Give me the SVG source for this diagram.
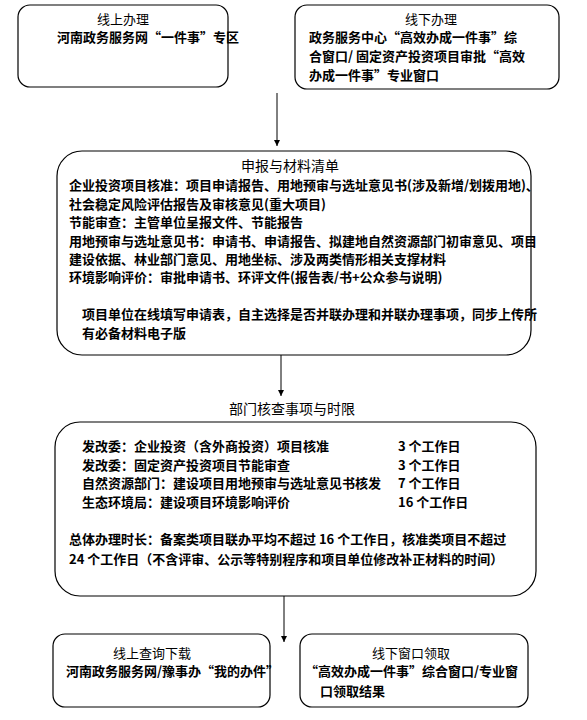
<svg xmlns="http://www.w3.org/2000/svg" width="587" height="720" viewBox="0 0 587 720">
<style>
.box{fill:#fff;stroke:#000;stroke-width:1.2}
.h{font-family:"Noto Sans CJK SC","Liberation Sans",sans-serif;font-size:13px;fill:#000}
.h2{font-family:"Noto Sans CJK SC","Liberation Sans",sans-serif;font-size:14px;fill:#000}
.b{font-family:"Noto Sans CJK SC","Liberation Sans",sans-serif;font-size:13px;font-weight:bold;fill:#000}
.c{stroke:#000;stroke-width:1;fill:none}
</style>
<defs>
<marker id="ar" markerWidth="8" markerHeight="8" refX="6" refY="4" orient="auto" markerUnits="userSpaceOnUse">
<path d="M0,1 L6,4 L0,7 Z" fill="#000"/>
</marker>
</defs>
<rect width="587" height="720" fill="#fff"/>
<g id="connectors">
<line class="c" x1="277" y1="93" x2="277" y2="146" marker-end="url(#ar)"/>
<line class="c" x1="281" y1="355" x2="281" y2="396" marker-end="url(#ar)"/>
<line class="c" x1="284" y1="592" x2="284" y2="642" marker-end="url(#ar)"/>
</g>
<g id="online">
<rect class="box" x="18" y="5" width="210" height="82" rx="12"/>
<text class="h" x="123" y="24" text-anchor="middle">线上办理</text>
<text class="b" x="57" y="42">河南政务服务网“一件事”专区</text>
</g>
<g id="offline">
<rect class="box" x="295" y="5" width="264" height="84" rx="12"/>
<text class="h" x="431" y="24" text-anchor="middle">线下办理</text>
<text class="b" x="309" y="42">政务服务中心“高效办成一件事”综</text>
<text class="b" x="309" y="61">合窗口/ 固定资产投资项目审批“高效</text>
<text class="b" x="309" y="80">办成一件事”专业窗口</text>
</g>
<g id="materials">
<rect class="box" x="57" y="151" width="474" height="204" rx="25"/>
<text class="h2" x="290" y="171" text-anchor="middle">申报与材料清单</text>
<text class="b" x="69" y="190">企业投资项目核准：项目申请报告、用地预审与选址意见书(涉及新增/划拨用地)、</text>
<text class="b" x="69" y="209">社会稳定风险评估报告及审核意见(重大项目)</text>
<text class="b" x="69" y="227">节能审查：主管单位呈报文件、节能报告</text>
<text class="b" x="69" y="246">用地预审与选址意见书：申请书、申请报告、拟建地自然资源部门初审意见、项目</text>
<text class="b" x="69" y="264">建设依据、林业部门意见、用地坐标、涉及两类情形相关支撑材料</text>
<text class="b" x="69" y="282">环境影响评价：审批申请书、环评文件(报告表/书+公众参与说明)</text>
<text class="b" x="82" y="319">项目单位在线填写申请表，自主选择是否并联办理和并联办理事项，同步上传所</text>
<text class="b" x="82" y="338">有必备材料电子版</text>
</g>
<g id="review-title">
<text class="h2" x="292" y="414" text-anchor="middle">部门核查事项与时限</text>
</g>
<g id="review">
<rect class="box" x="55" y="422" width="481" height="174" rx="25"/>
<text class="b" x="82" y="451">发改委：企业投资（含外商投资）项目核准</text>
<text class="b" x="398" y="451">3 个工作日</text>
<text class="b" x="82" y="470">发改委：固定资产投资项目节能审查</text>
<text class="b" x="398" y="470">3 个工作日</text>
<text class="b" x="82" y="488">自然资源部门：建设项目用地预审与选址意见书核发</text>
<text class="b" x="398" y="488">7 个工作日</text>
<text class="b" x="82" y="507">生态环境局：建设项目环境影响评价</text>
<text class="b" x="398" y="507">16 个工作日</text>
<text class="b" x="69" y="544">总体办理时长：备案类项目联办平均不超过 16 个工作日，核准类项目不超过</text>
<text class="b" x="69" y="564">24 个工作日（不含评审、公示等特别程序和项目单位修改补正材料的时间）</text>
</g>
<g id="online-result">
<rect class="box" x="53" y="634" width="217" height="73" rx="12"/>
<text class="h" x="152" y="658" text-anchor="middle">线上查询下载</text>
<text class="b" x="66" y="676">河南政务服务网/豫事办“我的办件”</text>
</g>
<g id="offline-result">
<rect class="box" x="300" y="634" width="228" height="73" rx="12"/>
<text class="h" x="411" y="658" text-anchor="middle">线下窗口领取</text>
<text class="b" x="305" y="676">“高效办成一件事”综合窗口/专业窗</text>
<text class="b" x="320" y="696">口领取结果</text>
</g>
</svg>
